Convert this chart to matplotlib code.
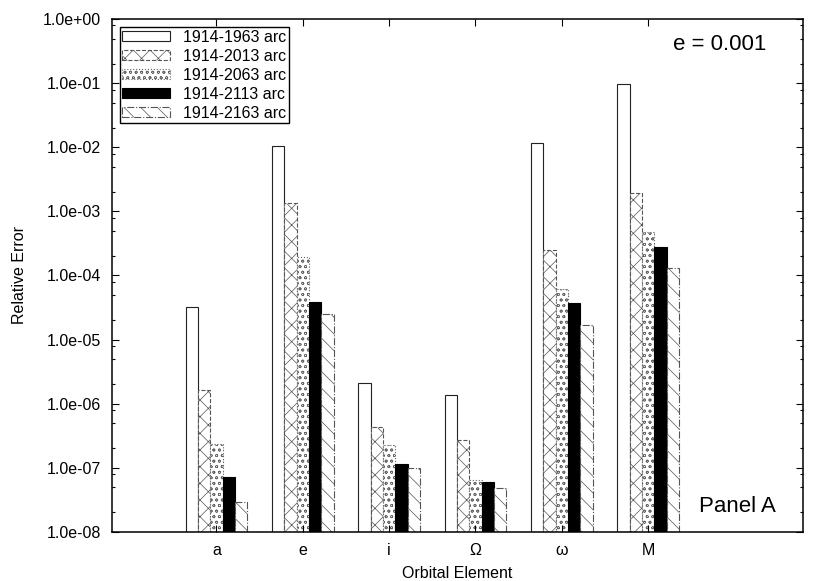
import matplotlib.pyplot as plt
import numpy as np
from matplotlib.ticker import FixedLocator, LogLocator, NullFormatter

plt.rcParams['font.family'] = ['Liberation Sans', 'DejaVu Sans']
plt.rcParams['hatch.linewidth'] = 0.5

elements = ["a", "e", "i", "Ω", "ω", "M"]
arcs = ["1914-1963 arc", "1914-2013 arc", "1914-2063 arc", "1914-2113 arc", "1914-2163 arc"]

# relative error per orbital element, one list per arc length
arc_1963 = [3.19e-5, 1.05e-2, 2.07e-6, 1.34e-6, 1.16e-2, 9.67e-2]
arc_2013 = [1.63e-6, 1.34e-3, 4.27e-7, 2.70e-7, 2.50e-4, 1.94e-3]
arc_2063 = [2.31e-7, 1.97e-4, 2.26e-7, 6.50e-8, 6.10e-5, 4.72e-4]
arc_2113 = [7.06e-8, 3.82e-5, 1.13e-7, 5.98e-8, 3.68e-5, 2.82e-4]
arc_2163 = [2.94e-8, 2.50e-5, 9.77e-8, 4.80e-8, 1.69e-5, 1.31e-4]

series = [arc_1963, arc_2013, arc_2063, arc_2113, arc_2163]
styles = [
    dict(facecolor="white", edgecolor="#222222", hatch=None, linestyle="-"),
    dict(facecolor="white", edgecolor="#555555", hatch="xx", linestyle="--"),
    dict(facecolor="white", edgecolor="#666666", hatch="ooo", linestyle=":"),
    dict(facecolor="black", edgecolor="black", hatch=None, linestyle="-"),
    dict(facecolor="white", edgecolor="#555555", hatch="\\\\", linestyle="-."),
]

fig = plt.figure(figsize=(8.3, 5.81), dpi=100)
ax = fig.add_axes([0.1349, 0.0849, 0.8322, 0.8819])

x = np.arange(len(elements))
w = 1 / 7
floor = 1e-8
for k, (vals, st) in enumerate(zip(series, styles)):
    vals = np.array(vals)
    ax.bar(x + (k - 2) * w, vals - floor, bottom=floor, width=w,
           linewidth=0.8, label=arcs[k], **st)

ax.set_yscale("log")
ax.set_ylim(1e-8, 1)
ax.set_xlim(-1.21, 6.79)

yt = 10.0 ** np.arange(-8, 1)
ax.yaxis.set_major_locator(FixedLocator(yt))
ax.set_yticklabels([f"{v:.1e}" for v in yt])
ax.yaxis.set_minor_locator(LogLocator(base=10, subs=(2, 5, 8)))
ax.yaxis.set_minor_formatter(NullFormatter())

ax.set_xticks(x)
ax.set_xticklabels(elements)

ax.tick_params(which="both", direction="in", top=True, right=True, labelsize=11.5)
ax.tick_params(which="major", length=5, width=0.8)
ax.tick_params(which="minor", length=2.5, width=0.8)
ax.tick_params(axis="x", pad=8)
ax.tick_params(axis="y", pad=8)
for s in ax.spines.values():
    s.set_linewidth(1.1)

ax.set_xlabel("Orbital Element", fontsize=11.5, labelpad=6)
ax.set_ylabel("Relative Error", fontsize=11.5, labelpad=11)

ax.text(0.88, 0.95, "e = 0.001", transform=ax.transAxes, fontsize=16,
        ha="center", va="center")
ax.text(0.905, 0.05, "Panel A", transform=ax.transAxes, fontsize=16,
        ha="center", va="center")

leg = ax.legend(loc="upper left", fontsize=11.5, fancybox=False, framealpha=1,
                edgecolor="black", borderaxespad=0.5, borderpad=0.15,
                handlelength=3.0, handleheight=0.6, labelspacing=0.25,
                handletextpad=0.8)
leg.get_frame().set_linewidth(1.0)

fig.savefig("out.png", dpi=100)
